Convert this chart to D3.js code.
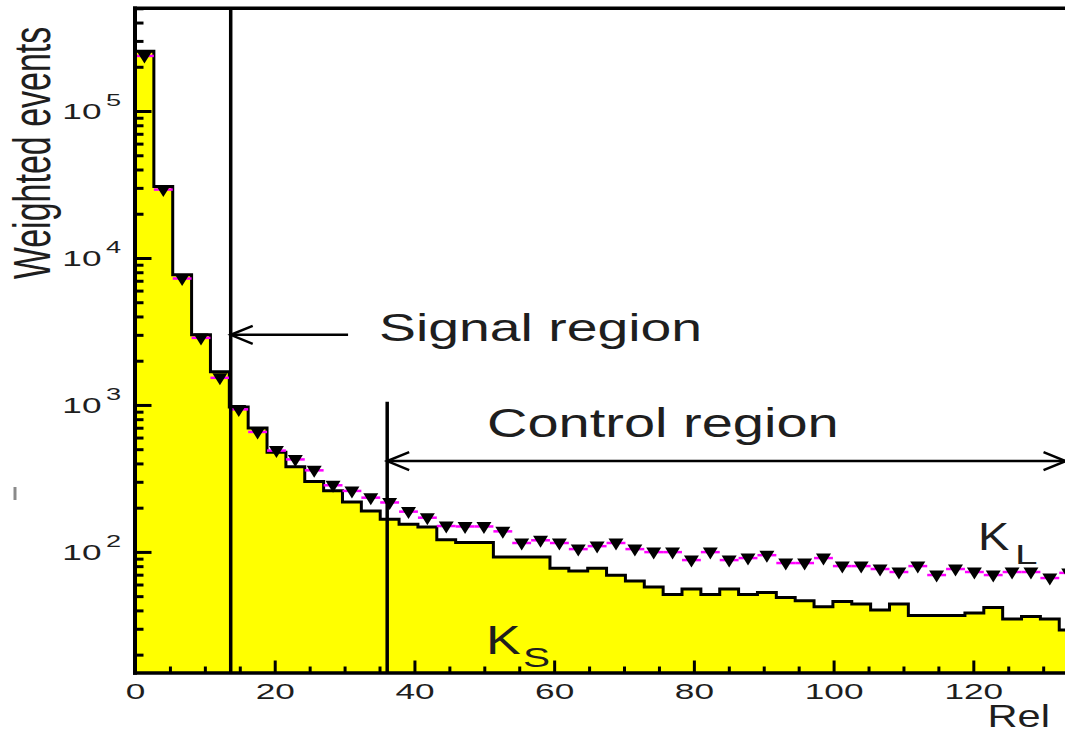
<!DOCTYPE html>
<html>
<head>
<meta charset="utf-8">
<script src="https://cdn.jsdelivr.net/npm/d3@7"></script>
<style>
  body { margin: 0; background: #fff; }
  svg { display: block; }
  text { font-family: "Liberation Sans", Arial, Helvetica, sans-serif; fill: #1e1e1e; }
</style>
</head>
<body>
<svg id="chart" width="1065" height="733"></svg>
<script>
// Histogram binning: 50 bins of width 2.7 over [0, 135]
const binWidth = 2.7;
const xRange = [0, 135];

// K_S weighted events per bin (yellow filled histogram)
const ksCounts = [
  2.55e5, 3.07e4, 7.7e3, 3.0e3, 1.68e3, 970, 697, 477, 380, 301,
  261, 219, 190, 167, 154, 148, 121, 116, 116, 92.5,
  92.5, 92.5, 77.3, 74.3, 77.3, 69.3, 63.4, 57.7, 51.3, 56,
  51.3, 56, 51.3, 53, 49, 46.5, 42.4, 46, 44.2, 40.3,
  44.2, 36.9, 36.9, 36.9, 38.4, 41.9, 35, 36.4, 35, 29.4
];

// K_L weighted events per bin (triangle markers)
const klCounts = [
  2.37e5, 2.92e4, 7.25e3, 2.86e3, 1.53e3, 933, 655, 489, 426, 359,
  284, 260, 234, 217, 188, 171, 150, 149, 149, 138,
  115, 120, 115, 104.5, 109.5, 115, 104.5, 99.7, 99.7, 88,
  99.7, 88, 90.8, 95, 84, 84, 90.8, 80.1, 80.1, 76.5,
  73, 80.1, 69.6, 76.5, 73, 69.6, 73, 73, 66.4, 72
];

// Axis ticks
const xMajorTicks = [0, 20, 40, 60, 80, 100, 120];
const xMinorTicks = d3.range(5, 135, 5).filter(v => v % 20 !== 0);
const yDecades = [2, 3, 4, 5];
const yMinorTicks = [];
[1, 2, 3, 4, 5].forEach(p => d3.range(2, 10).forEach(m => {
  const v = m * Math.pow(10, p);
  if (v >= 15 && v <= 5e5) yMinorTicks.push(v);
}));

// Region cuts and annotation arrows (data units)
const signalCut = 13.7;
const controlCut = 36.1;
const controlLineTop = 1050;
const signalArrow = { x1: signalCut, x2: 30.5, y: 3000 };
const controlArrow = { x1: controlCut, x2: 133.2, y: 415 };

const svg = d3.select("#chart");

const x = d3.scaleLinear().domain(xRange).range([135, 135 + 135 * 6.986]);
const y = d3.scaleLog().domain([15, 5e5]).range([673, 8.3]);
const yBottom = y.range()[0];

// horizontally stretched text helper
function stext(px, py, str, size, sx, anchor) {
  const g = svg.append("g").attr("transform", `translate(${px},${py}) scale(${sx},1)`);
  return g.append("text").attr("text-anchor", anchor).attr("font-size", size).text(str);
}

// K_S histogram (step)
const ksPts = ksCounts.map((v, i) => [i * binWidth, v]);
ksPts.push([xRange[1], ksCounts[ksCounts.length - 1]]);

svg.append("path")
  .datum(ksPts)
  .attr("fill", "#ffff00")
  .attr("d", d3.area().curve(d3.curveStepAfter)
    .x(d => x(d[0])).y0(yBottom).y1(d => y(d[1])));

svg.append("path")
  .datum(ksPts)
  .attr("fill", "none")
  .attr("stroke", "#000")
  .attr("stroke-width", 3)
  .attr("d", d3.line().curve(d3.curveStepAfter)
    .x(d => x(d[0])).y(d => y(d[1])));

// K_L markers: magenta bin-width bars + inverted black triangles
const kl = svg.append("g");
kl.selectAll("line")
  .data(klCounts)
  .join("line")
  .attr("x1", (d, i) => x(i * binWidth))
  .attr("x2", (d, i) => x((i + 1) * binWidth))
  .attr("y1", d => y(d))
  .attr("y2", d => y(d))
  .attr("stroke", "#ff00ff")
  .attr("stroke-width", 2.5);
kl.selectAll("path")
  .data(klCounts)
  .join("path")
  .attr("transform", (d, i) => `translate(${x((i + 0.5) * binWidth)},${y(d)})`)
  .attr("d", "M-7.5,-4.5 L7.5,-4.5 L0,7.5 Z")
  .attr("fill", "#000");

// Region boundaries
svg.append("line")
  .attr("x1", x(signalCut)).attr("x2", x(signalCut))
  .attr("y1", y.range()[1]).attr("y2", yBottom)
  .attr("stroke", "#000").attr("stroke-width", 3.5);
svg.append("line")
  .attr("x1", x(controlCut)).attr("x2", x(controlCut))
  .attr("y1", y(controlLineTop)).attr("y2", yBottom)
  .attr("stroke", "#000").attr("stroke-width", 3.5);

// Arrows
function arrow(a, both) {
  const ay = y(a.y), xa = x(a.x1), xb = x(a.x2);
  svg.append("line").attr("x1", xa).attr("x2", xb).attr("y1", ay).attr("y2", ay)
    .attr("stroke", "#000").attr("stroke-width", 2.5);
  svg.append("path")
    .attr("d", `M${xa + 22},${ay - 9} L${xa},${ay} L${xa + 22},${ay + 9}`)
    .attr("fill", "none").attr("stroke", "#000").attr("stroke-width", 2.5);
  if (both) {
    svg.append("path")
      .attr("d", `M${xb - 22},${ay - 9} L${xb},${ay} L${xb - 22},${ay + 9}`)
      .attr("fill", "none").attr("stroke", "#000").attr("stroke-width", 2.5);
  }
}
arrow(signalArrow, false);
arrow(controlArrow, true);

// Axes
const gx = svg.append("g").attr("transform", `translate(0,${yBottom})`);
gx.append("g").call(d3.axisBottom(x).tickValues(xMinorTicks).tickSize(-6.5).tickFormat(""));
const gxMaj = gx.append("g").call(d3.axisBottom(x).tickValues(xMajorTicks).tickSize(-12.5).tickFormat(d3.format("d")));
gx.selectAll(".domain").remove();
gx.selectAll(".tick line").attr("stroke", "#000").attr("stroke-width", 3);
gxMaj.selectAll(".tick text")
  .attr("y", 26).attr("dy", 0)
  .attr("font-size", 22)
  .attr("font-family", "Liberation Sans, Arial, sans-serif")
  .attr("fill", "#1e1e1e")
  .attr("transform", "scale(1.6,1)");

const gy = svg.append("g").attr("transform", `translate(${x(0)},0)`);
gy.append("g").call(d3.axisLeft(y).tickValues(yMinorTicks).tickSize(-8.5).tickFormat(""));
gy.append("g").call(d3.axisLeft(y).tickValues(yDecades.map(p => Math.pow(10, p))).tickSize(-16.5).tickFormat(""));
gy.selectAll(".domain").remove();
gy.selectAll(".tick line").attr("stroke", "#000").attr("stroke-width", 3);

// frame lines
svg.append("line").attr("x1", x(0)).attr("x2", x(0)).attr("y1", y.range()[1] - 1.8).attr("y2", yBottom + 1.8)
  .attr("stroke", "#000").attr("stroke-width", 4);
svg.append("line").attr("x1", x(0) - 2).attr("x2", x(xRange[1])).attr("y1", yBottom).attr("y2", yBottom)
  .attr("stroke", "#000").attr("stroke-width", 3.5);
svg.append("line").attr("x1", x(0) - 2).attr("x2", x(xRange[1])).attr("y1", y.range()[1]).attr("y2", y.range()[1])
  .attr("stroke", "#000").attr("stroke-width", 3.5);

// Y tick labels 10^n
yDecades.forEach(p => {
  const ty = y(Math.pow(10, p));
  stext(101.5, ty + 8, "10", 22, 1.6, "end");
  stext(106, ty - 5, String(p), 17, 1.6, "start");
});

// Axis titles
svg.append("g").attr("transform", "translate(50,153) scale(1.52,1) rotate(-90)")
  .append("text").attr("text-anchor", "middle").attr("font-size", 34).text("Weighted events");
// small stray dash left of the axis
svg.append("line").attr("x1", 15).attr("x2", 15).attr("y1", 487).attr("y2", 500)
  .attr("stroke", "#8a8a8a").attr("stroke-width", 3);
stext(1050, 727, "Rel", 32, 1.3, "end");

// Region labels
stext(379, 341, "Signal region", 39, 1.42, "start");
stext(487, 437, "Control region", 40, 1.4, "start");

// Species labels
stext(978, 550, "K", 39, 1.2, "start");
stext(1015, 564, "L", 27, 1.5, "start");
stext(486, 654, "K", 40, 1.3, "start");
stext(523, 667, "S", 28, 1.45, "start");
</script>
</body>
</html>
